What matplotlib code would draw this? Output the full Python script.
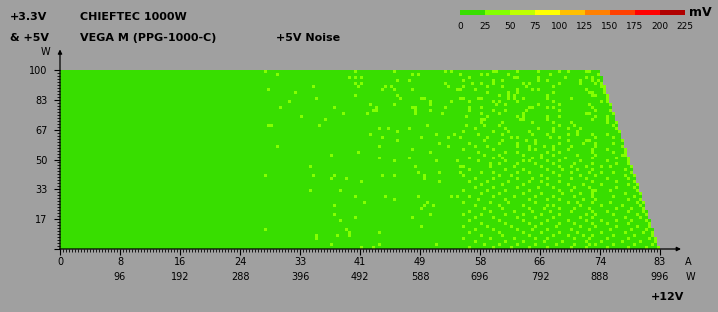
import matplotlib
matplotlib.use("Agg")
import matplotlib.pyplot as plt
from matplotlib.colors import ListedColormap, BoundaryNorm
from matplotlib.ticker import MultipleLocator, FixedLocator
import numpy as np

# noise scale (mV) and its colours
levels = [0, 25, 50, 75, 100, 125, 150, 175, 200, 225]
level_colors = ['#38de00', '#84ff00', '#bfff00', '#ffff00', '#ffbf00',
                '#ff8000', '#ff4000', '#ff0000', '#b00000']

# axes: +12V current (A) and +3.3V & +5V load (W)
amps_max = 83
watts_max = 100
n_cols = 200
n_rows = 60
amp_ticks = [0, 8, 16, 24, 33, 41, 49, 58, 66, 74, 83]
amp_watts = ['', '96', '192', '288', '396', '492', '588', '696', '792', '888', '996']
watt_ticks = ['', '17', '33', '50', '67', '83', '100']

# load limit: number of measured cells in each row, top row (100 W) first
row_ncols = [180, 180, 181, 181, 181, 182, 182, 182, 183, 183,
             183, 184, 184, 184, 185, 185, 185, 186, 186, 186,
             187, 187, 187, 188, 188, 188, 189, 189, 189, 190,
             190, 190, 191, 191, 191, 192, 192, 192, 193, 193,
             193, 194, 194, 194, 195, 195, 195, 196, 196, 196,
             197, 197, 197, 198, 198, 198, 199, 199, 199, 200]

base_mv = 18      # most of the map, 0-25 mV
spot_mv = 32      # lighter cells, 25-50 mV

# columns of the 25-50 mV cells, row by row (top row first)
spots = [
    [68, 98, 111, 128, 130, 144, 145, 152, 159, 166, 169, 175, 176],
    [72, 117, 119, 133, 140, 142, 149, 163, 179],
    [96, 98, 100, 136, 151, 152, 159, 168, 175, 177],
    [112, 116, 134, 144, 147, 159, 162, 173, 177, 179],
    [98, 100, 128, 137, 140, 144, 154, 156, 166, 173, 178, 180],
    [84, 99, 108, 110, 129, 134, 142, 147, 155, 164, 180, 181],
    [69, 107, 111, 117, 132, 133, 138, 152, 157, 159, 175, 181],
    [78, 142, 149, 152, 164, 176, 177, 181],
    [98, 112, 146, 149, 151, 162, 177, 178, 182],
    [85, 113, 120, 121, 133, 134, 139, 140, 149, 151, 154, 162, 170, 182],
    [76, 123, 130, 136, 144, 146, 152, 164, 180, 182],
    [103, 111, 123, 145, 148, 159, 166, 176, 183],
    [73, 91, 105, 117, 118, 128, 136, 140, 156, 157, 162, 164, 177],
    [104, 105, 118, 123, 136, 144, 148, 155, 166, 178, 183],
    [94, 102, 118, 127, 140, 146, 154, 175, 176, 184],
    [80, 135, 142, 152, 154, 162, 166, 178, 182],
    [88, 140, 141, 153, 154, 162, 177, 182],
    [140, 147, 157, 164, 170, 182, 185],
    [69, 70, 86, 122, 135, 141, 146, 166, 171, 184],
    [106, 109, 116, 138, 148, 159, 164, 169, 173, 185],
    [112, 134, 144, 149, 156, 164, 172, 186],
    [103, 125, 131, 139, 147, 157, 162, 169, 172, 177, 182],
    [107, 120, 129, 133, 142, 150, 152, 163, 166, 178, 184],
    [112, 141, 147, 155, 158, 169, 175, 176, 187],
    [126, 136, 146, 152, 158, 166, 174, 178, 184],
    [72, 106, 129, 138, 142, 152, 156, 161, 164, 170, 178, 187],
    [117, 134, 144, 156, 158, 164, 169, 177, 182, 188],
    [99, 123, 139, 148, 152, 162, 166, 177, 184, 188],
    [90, 141, 146, 154, 160, 164, 172, 178, 187, 188],
    [106, 116, 136, 144, 147, 157, 160, 168, 177, 185, 189],
    [111, 125, 132, 139, 148, 154, 156, 162, 166, 173, 182, 189],
    [143, 146, 152, 158, 164, 171, 177, 185, 189],
    [83, 118, 133, 134, 143, 151, 160, 166, 170, 175, 180, 183, 190],
    [136, 148, 154, 162, 167, 172, 177, 188],
    [119, 126, 133, 140, 144, 152, 156, 164, 170, 176, 180, 184, 190],
    [68, 84, 91, 107, 111, 121, 134, 146, 150, 160, 166, 173, 178, 188, 191],
    [90, 95, 121, 138, 144, 152, 157, 162, 170, 175, 182, 189],
    [100, 126, 136, 142, 149, 156, 160, 166, 177, 185, 191],
    [140, 147, 154, 162, 169, 174, 180, 189, 192],
    [138, 144, 152, 159, 164, 171, 176, 185, 191],
    [83, 93, 134, 142, 148, 156, 166, 170, 177, 178, 183, 192],
    [140, 146, 154, 160, 167, 173, 177, 188, 193],
    [98, 108, 119, 130, 132, 136, 144, 151, 158, 164, 171, 177, 184, 191],
    [111, 139, 148, 156, 162, 166, 174, 178, 189, 193],
    [101, 122, 134, 143, 149, 158, 169, 172, 177, 183, 192, 194],
    [91, 121, 124, 138, 146, 154, 162, 164, 173, 180, 187, 193],
    [120, 141, 147, 156, 161, 166, 171, 176, 185, 190, 194],
    [136, 143, 151, 157, 163, 170, 177, 182, 189, 194],
    [91, 123, 134, 140, 148, 154, 160, 166, 175, 178, 184, 192, 195],
    [98, 117, 138, 144, 152, 158, 164, 173, 177, 188, 193],
    [93, 136, 146, 154, 162, 169, 175, 180, 185, 190, 195],
    [140, 148, 156, 160, 166, 171, 177, 182, 189, 196],
    [120, 134, 142, 150, 158, 165, 173, 178, 185, 192, 196],
    [68, 95, 138, 144, 152, 157, 162, 170, 176, 183, 190, 195],
    [96, 106, 136, 146, 154, 160, 166, 172, 180, 188, 194, 197],
    [85, 92, 96, 140, 147, 156, 164, 169, 174, 177, 184, 191, 197],
    [85, 134, 143, 151, 158, 162, 171, 176, 182, 189, 196, 198],
    [138, 148, 154, 161, 167, 175, 180, 187, 193, 198],
    [90, 106, 125, 141, 146, 152, 158, 165, 171, 176, 178, 184, 191, 197],
    [100, 104, 136, 144, 150, 156, 162, 170, 175, 182, 189, 195, 199],
]

noise = np.full((n_rows, n_cols), np.nan)
for r in range(n_rows):
    noise[r, :row_ncols[r]] = base_mv
    for c in spots[r]:
        if c < row_ncols[r]:
            noise[r, c] = spot_mv
noise = np.ma.masked_invalid(noise)

bg = '#a0a0a0'
cmap = ListedColormap(level_colors)
norm = BoundaryNorm(levels, cmap.N)

W, H = 718, 312
fig = plt.figure(figsize=(W / 100, H / 100), dpi=100, facecolor=bg)
ax = fig.add_axes([60 / W, 63 / H, 600 / W, 179 / H])
ax.set_facecolor(bg)

ax.imshow(noise, cmap=cmap, norm=norm, origin='upper', aspect='auto',
          interpolation='nearest', extent=[0, amps_max, 0, watts_max])
ax.set_xlim(0, amps_max)
ax.set_ylim(0, watts_max)

for s in ax.spines.values():
    s.set_visible(False)

# axis lines with arrow heads
ax.annotate('', xy=(0, 1.115), xytext=(0, 0), xycoords='axes fraction',
            arrowprops=dict(arrowstyle='-|>', color='black', lw=0.9,
                            mutation_scale=6, shrinkA=0, shrinkB=0))
ax.annotate('', xy=(1.035, 0), xytext=(0, 0), xycoords='axes fraction',
            arrowprops=dict(arrowstyle='-|>', color='black', lw=0.9,
                            mutation_scale=6, shrinkA=0, shrinkB=0))

x_pos = [amps_max * k / 10 for k in range(11)]
y_pos = [watts_max * k / 6 for k in range(7)]
ax.xaxis.set_major_locator(FixedLocator(x_pos))
ax.set_xticklabels(['%d\n%s' % (a, w) if w else '%d\n ' % a
                    for a, w in zip(amp_ticks, amp_watts)],
                   fontsize=7, linespacing=1.6)
ax.yaxis.set_major_locator(FixedLocator(y_pos))
ax.set_yticklabels(watt_ticks, fontsize=7)
ax.xaxis.set_minor_locator(MultipleLocator(amps_max / n_cols))
ax.yaxis.set_minor_locator(MultipleLocator(watts_max / n_rows))
ax.tick_params(which='major', direction='out', length=4, width=0.8,
               color='black', pad=2)
ax.tick_params(which='minor', direction='out', length=2, width=0.6,
               color='black')
ax.tick_params(axis='y', which='major', pad=5)

def put(x, y, s, **kw):
    fig.text(x / W, 1 - y / H, s, va='center', **kw)

put(10, 17, '+3.3V', fontsize=8, fontweight='bold')
put(10, 38, '& +5V', fontsize=8, fontweight='bold')
put(80, 17, 'CHIEFTEC 1000W', fontsize=8, fontweight='bold')
put(80, 38, 'VEGA M (PPG-1000-C)', fontsize=8, fontweight='bold')
put(276, 38, '+5V Noise', fontsize=8, fontweight='bold')
put(45, 52, 'W', fontsize=7, ha='center')
put(688, 262, 'A', fontsize=7, ha='center')
put(690, 277, 'W', fontsize=7, ha='center')
put(651, 297, '+12V', fontsize=8, fontweight='bold')
put(689, 12, 'mV', fontsize=9, fontweight='bold')

# colour scale
cax = fig.add_axes([460 / W, 1 - 15 / H, 225 / W, 5 / H])
cax.imshow(np.array([levels[:-1]]) + 1, cmap=cmap, norm=norm, aspect='auto',
           interpolation='nearest', extent=[0, 225, 0, 1])
cax.set_xticks(levels)
cax.set_xticklabels([str(v) for v in levels], fontsize=6.5)
cax.set_yticks([])
cax.tick_params(length=0, pad=5)
for s in cax.spines.values():
    s.set_visible(False)

fig.savefig('out.png', dpi=100, facecolor=bg)
